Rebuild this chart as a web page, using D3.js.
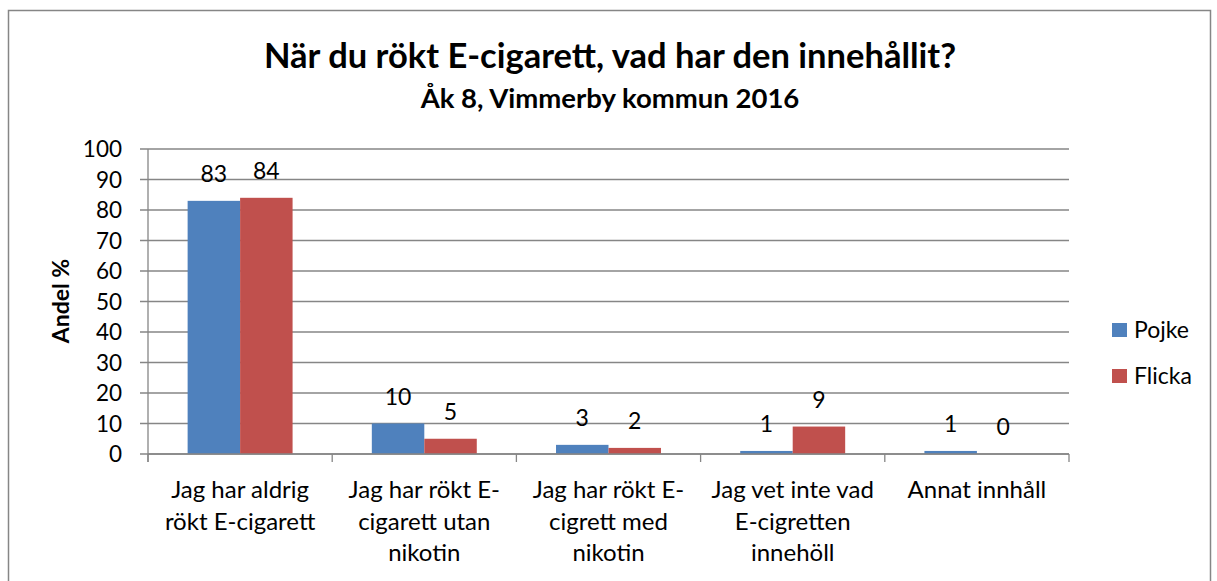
<!DOCTYPE html>
<html>
<head>
<meta charset="utf-8">
<script src="https://cdn.jsdelivr.net/npm/d3@7"></script>
<style>
  body { margin: 0; background: #fff; }
  text { font-family: Lato, "Open Sans", sans-serif; fill: #000; }
</style>
</head>
<body>
<div id="chart"></div>
<script>
// Data
var categories = [
    ["Jag har aldrig", "rökt E-cigarett"],
    ["Jag har rökt E-", "cigarett utan", "nikotin"],
    ["Jag har rökt E-", "cigrett med", "nikotin"],
    ["Jag vet inte vad", "E-cigretten", "innehöll"],
    ["Annat innhåll"]
];
var seriesNames = ["Pojke", "Flicka"];
var pojke = [83, 10, 3, 1, 1];
var flicka = [84, 5, 2, 9, 0];
var yTicks = [0, 10, 20, 30, 40, 50, 60, 70, 80, 90, 100];
var colors = ["#4F81BD", "#C0504D"];

var W = 1217, H = 581;
var svg = d3.select("#chart").append("svg").attr("width", W).attr("height", H);

// outer frame
svg.append("rect").attr("x", 8.5).attr("y", 10.5).attr("width", 1202).attr("height", 600)
    .attr("fill", "none").attr("stroke", "#868686").attr("stroke-width", 1.5);

// title
svg.append("text").attr("x", 610).attr("y", 68).attr("text-anchor", "middle")
    .style("font-size", "34.5px").style("font-weight", "bold")
    .text("När du rökt E-cigarett, vad har den innehållit?");
svg.append("text").attr("x", 610).attr("y", 108).attr("text-anchor", "middle")
    .style("font-size", "27.5px").style("font-weight", "bold")
    .text("Åk 8, Vimmerby kommun 2016");

//------------------------------- SCALES ------------------------------------
var pLeft = 148, pRight = 1069, pTop = 149, pBottom = 454;
var x0 = d3.scaleBand().domain(d3.range(categories.length)).range([pLeft, pRight]).padding(0);
var x1 = d3.scaleBand().domain(seriesNames).range([0, x0.bandwidth()]).paddingInner(0).paddingOuter(0.755);
var y = d3.scaleLinear().domain([0, 100]).range([pBottom, pTop]);

// gridlines
svg.append("g").selectAll("line").data(yTicks).enter()
    .append("line")
    .attr("x1", pLeft - 8).attr("x2", pRight)
    .attr("y1", d => y(d)).attr("y2", d => y(d))
    .attr("stroke", "#868686").attr("stroke-width", 1.3);

// y tick labels
svg.append("g").selectAll("text").data(yTicks).enter()
    .append("text")
    .attr("x", 122).attr("y", d => y(d) + 8)
    .attr("text-anchor", "end")
    .style("font-size", "22.5px")
    .text(d => d);

// y axis line
svg.append("line").attr("x1", pLeft).attr("x2", pLeft).attr("y1", pTop).attr("y2", pBottom + 8)
    .attr("stroke", "#868686").attr("stroke-width", 1.3);

// y axis title
svg.append("text").attr("transform", "translate(69,301) rotate(-90)")
    .attr("text-anchor", "middle").style("font-size", "23px").style("font-weight", "bold")
    .text("Andel %");

// bars
var rows = categories.map((c, i) => ({ i: i, vals: [pojke[i], flicka[i]] }));
var groups = svg.append("g").selectAll("g").data(rows).enter()
    .append("g").attr("transform", d => `translate(${x0(d.i)},0)`);

groups.selectAll("rect").data(d => d.vals.map((v, k) => ({ k: k, v: v }))).enter()
    .append("rect")
    .attr("x", d => x1(seriesNames[d.k]))
    .attr("y", d => y(d.v))
    .attr("width", x1.bandwidth())
    .attr("height", d => pBottom - y(d.v))
    .attr("fill", d => colors[d.k]);

groups.selectAll("text").data(d => d.vals.map((v, k) => ({ k: k, v: v }))).enter()
    .append("text")
    .attr("x", d => x1(seriesNames[d.k]) + x1.bandwidth() / 2)
    .attr("y", d => y(d.v) - 19)
    .attr("text-anchor", "middle")
    .style("font-size", "23px")
    .text(d => d.v);

// x axis line + ticks
svg.append("line").attr("x1", pLeft).attr("x2", pRight).attr("y1", pBottom).attr("y2", pBottom)
    .attr("stroke", "#868686").attr("stroke-width", 1.3);
var xt = d3.range(categories.length + 1).map(i => i < categories.length ? x0(i) : pRight);
svg.append("g").selectAll("line").data(xt).enter()
    .append("line")
    .attr("x1", d => d).attr("x2", d => d).attr("y1", pBottom).attr("y2", pBottom + 8)
    .attr("stroke", "#868686").attr("stroke-width", 1.3);

// category labels
svg.append("g").selectAll("text").data(categories).enter()
    .append("text")
    .attr("text-anchor", "middle")
    .style("font-size", "24px")
    .each(function(d, i) {
        d3.select(this).selectAll("tspan").data(d).enter()
            .append("tspan")
            .attr("x", x0(i) + x0.bandwidth() / 2)
            .attr("y", (l, j) => 498 + j * 31.5)
            .text(l => l);
    });

// legend
var legend = svg.append("g").selectAll("g").data(seriesNames).enter()
    .append("g").attr("transform", (d, i) => `translate(1112,${330 + i * 46})`);
legend.append("rect").attr("x", 0).attr("y", -7).attr("width", 15).attr("height", 14)
    .attr("fill", (d, i) => colors[i]);
legend.append("text").attr("x", 22).attr("y", 8).style("font-size", "23px").text(d => d);
</script>
</body>
</html>
